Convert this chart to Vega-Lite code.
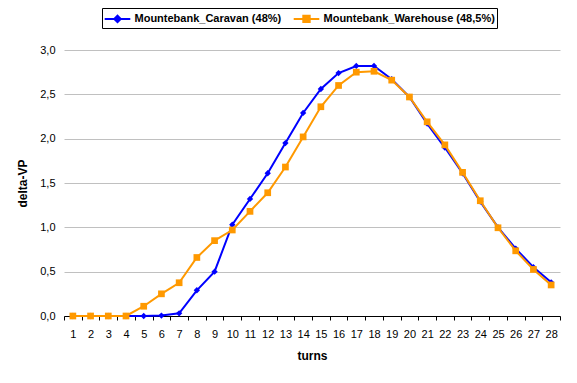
{
  "$schema": "https://vega.github.io/schema/vega-lite/v6.json",
  "width": 496,
  "height": 266,
  "autosize": {"type": "none"},
  "padding": {"left": 64, "top": 50, "right": 17, "bottom": 67},
  "background": "white",
  "config": {"view": {"stroke": null}, "font": "Liberation Sans"},
  "data": {"values": [
    {"turn": 1, "series": "Mountebank_Caravan (48%)", "vp": 0},
    {"turn": 2, "series": "Mountebank_Caravan (48%)", "vp": 0},
    {"turn": 3, "series": "Mountebank_Caravan (48%)", "vp": 0},
    {"turn": 4, "series": "Mountebank_Caravan (48%)", "vp": 0},
    {"turn": 5, "series": "Mountebank_Caravan (48%)", "vp": 0},
    {"turn": 6, "series": "Mountebank_Caravan (48%)", "vp": 0.005},
    {"turn": 7, "series": "Mountebank_Caravan (48%)", "vp": 0.03},
    {"turn": 8, "series": "Mountebank_Caravan (48%)", "vp": 0.29},
    {"turn": 9, "series": "Mountebank_Caravan (48%)", "vp": 0.5},
    {"turn": 10, "series": "Mountebank_Caravan (48%)", "vp": 1.03},
    {"turn": 11, "series": "Mountebank_Caravan (48%)", "vp": 1.32},
    {"turn": 12, "series": "Mountebank_Caravan (48%)", "vp": 1.61},
    {"turn": 13, "series": "Mountebank_Caravan (48%)", "vp": 1.95},
    {"turn": 14, "series": "Mountebank_Caravan (48%)", "vp": 2.29},
    {"turn": 15, "series": "Mountebank_Caravan (48%)", "vp": 2.56},
    {"turn": 16, "series": "Mountebank_Caravan (48%)", "vp": 2.74},
    {"turn": 17, "series": "Mountebank_Caravan (48%)", "vp": 2.82},
    {"turn": 18, "series": "Mountebank_Caravan (48%)", "vp": 2.82},
    {"turn": 19, "series": "Mountebank_Caravan (48%)", "vp": 2.67},
    {"turn": 20, "series": "Mountebank_Caravan (48%)", "vp": 2.47},
    {"turn": 21, "series": "Mountebank_Caravan (48%)", "vp": 2.17},
    {"turn": 22, "series": "Mountebank_Caravan (48%)", "vp": 1.9},
    {"turn": 23, "series": "Mountebank_Caravan (48%)", "vp": 1.61},
    {"turn": 24, "series": "Mountebank_Caravan (48%)", "vp": 1.29},
    {"turn": 25, "series": "Mountebank_Caravan (48%)", "vp": 1.0},
    {"turn": 26, "series": "Mountebank_Caravan (48%)", "vp": 0.76},
    {"turn": 27, "series": "Mountebank_Caravan (48%)", "vp": 0.55},
    {"turn": 28, "series": "Mountebank_Caravan (48%)", "vp": 0.38},
    {"turn": 1, "series": "Mountebank_Warehouse (48,5%)", "vp": 0},
    {"turn": 2, "series": "Mountebank_Warehouse (48,5%)", "vp": 0},
    {"turn": 3, "series": "Mountebank_Warehouse (48,5%)", "vp": 0},
    {"turn": 4, "series": "Mountebank_Warehouse (48,5%)", "vp": 0},
    {"turn": 5, "series": "Mountebank_Warehouse (48,5%)", "vp": 0.11},
    {"turn": 6, "series": "Mountebank_Warehouse (48,5%)", "vp": 0.25},
    {"turn": 7, "series": "Mountebank_Warehouse (48,5%)", "vp": 0.375},
    {"turn": 8, "series": "Mountebank_Warehouse (48,5%)", "vp": 0.66},
    {"turn": 9, "series": "Mountebank_Warehouse (48,5%)", "vp": 0.85},
    {"turn": 10, "series": "Mountebank_Warehouse (48,5%)", "vp": 0.97},
    {"turn": 11, "series": "Mountebank_Warehouse (48,5%)", "vp": 1.18},
    {"turn": 12, "series": "Mountebank_Warehouse (48,5%)", "vp": 1.39},
    {"turn": 13, "series": "Mountebank_Warehouse (48,5%)", "vp": 1.68},
    {"turn": 14, "series": "Mountebank_Warehouse (48,5%)", "vp": 2.02},
    {"turn": 15, "series": "Mountebank_Warehouse (48,5%)", "vp": 2.36},
    {"turn": 16, "series": "Mountebank_Warehouse (48,5%)", "vp": 2.6},
    {"turn": 17, "series": "Mountebank_Warehouse (48,5%)", "vp": 2.75},
    {"turn": 18, "series": "Mountebank_Warehouse (48,5%)", "vp": 2.76},
    {"turn": 19, "series": "Mountebank_Warehouse (48,5%)", "vp": 2.66},
    {"turn": 20, "series": "Mountebank_Warehouse (48,5%)", "vp": 2.47},
    {"turn": 21, "series": "Mountebank_Warehouse (48,5%)", "vp": 2.19},
    {"turn": 22, "series": "Mountebank_Warehouse (48,5%)", "vp": 1.93},
    {"turn": 23, "series": "Mountebank_Warehouse (48,5%)", "vp": 1.62},
    {"turn": 24, "series": "Mountebank_Warehouse (48,5%)", "vp": 1.3},
    {"turn": 25, "series": "Mountebank_Warehouse (48,5%)", "vp": 0.995},
    {"turn": 26, "series": "Mountebank_Warehouse (48,5%)", "vp": 0.735},
    {"turn": 27, "series": "Mountebank_Warehouse (48,5%)", "vp": 0.525},
    {"turn": 28, "series": "Mountebank_Warehouse (48,5%)", "vp": 0.35}
  ]},
  "encoding": {
    "x": {
      "field": "turn", "type": "ordinal",
      "scale": {"type": "band", "paddingInner": 0, "paddingOuter": 0},
      "axis": {
        "title": "turns", "titleFontSize": 12, "titleFontWeight": "bold", "titleColor": "black", "titlePadding": 11,
        "labelAngle": 0, "labelFontSize": 11, "labelColor": "black", "labelPadding": 8,
        "tickBand": "extent", "tickSize": 4, "tickColor": "black", "domainColor": "black", "grid": false
      }
    },
    "y": {
      "field": "vp", "type": "quantitative",
      "scale": {"domain": [0, 3], "nice": false},
      "axis": {
        "title": "delta-VP", "titleFontSize": 12, "titleFontWeight": "bold", "titleColor": "black", "titlePadding": 10,
        "values": [0, 0.5, 1, 1.5, 2, 2.5, 3],
        "labelExpr": "replace(format(datum.value, '.1f'), '.', ',')",
        "labelFontSize": 11, "labelColor": "black", "labelPadding": 9,
        "domain": false, "ticks": false, "gridColor": "#C0C0C0", "gridWidth": 1
      }
    },
    "color": {
      "field": "series", "type": "nominal",
      "scale": {"domain": ["Mountebank_Caravan (48%)", "Mountebank_Warehouse (48,5%)"], "range": ["#0000FF", "#FF9900"]},
      "legend": {
        "title": null, "orient": "none", "legendX": 38, "legendY": -42, "direction": "horizontal",
        "strokeColor": "black", "fillColor": "white", "padding": 1.5, "cornerRadius": 0,
        "labelFontSize": 11, "labelFontWeight": "bold", "labelColor": "black", "labelLimit": 400,
        "symbolSize": 256, "symbolStrokeWidth": 2, "symbolOffset": 5, "labelOffset": 8, "columnPadding": 8,
        "encode": {"symbols": {"update": {
          "shape": {"signal": "datum.value === 'Mountebank_Caravan (48%)' ? 'M-1.6,0H1.6M-0.4,0L0,-0.4L0.4,0L0,0.4Z' : 'M-1.6,0H1.6M-0.4,-0.4H0.4V0.4H-0.4Z'"},
          "fill": {"scale": "color", "field": "value"},
          "stroke": {"scale": "color", "field": "value"},
          "opacity": {"value": 1}
        }}}
      }
    }
  },
  "layer": [
    {"transform": [{"filter": "datum.series === 'Mountebank_Caravan (48%)'"}], "mark": {"type": "line", "strokeWidth": 2}},
    {"transform": [{"filter": "datum.series === 'Mountebank_Caravan (48%)'"}], "mark": {"type": "point", "shape": "diamond", "filled": true, "opacity": 1, "size": 40}},
    {"transform": [{"filter": "datum.series === 'Mountebank_Warehouse (48,5%)'"}], "mark": {"type": "line", "strokeWidth": 2}},
    {"transform": [{"filter": "datum.series === 'Mountebank_Warehouse (48,5%)'"}], "mark": {"type": "point", "shape": "square", "filled": true, "opacity": 1, "size": 45}}
  ]
}
